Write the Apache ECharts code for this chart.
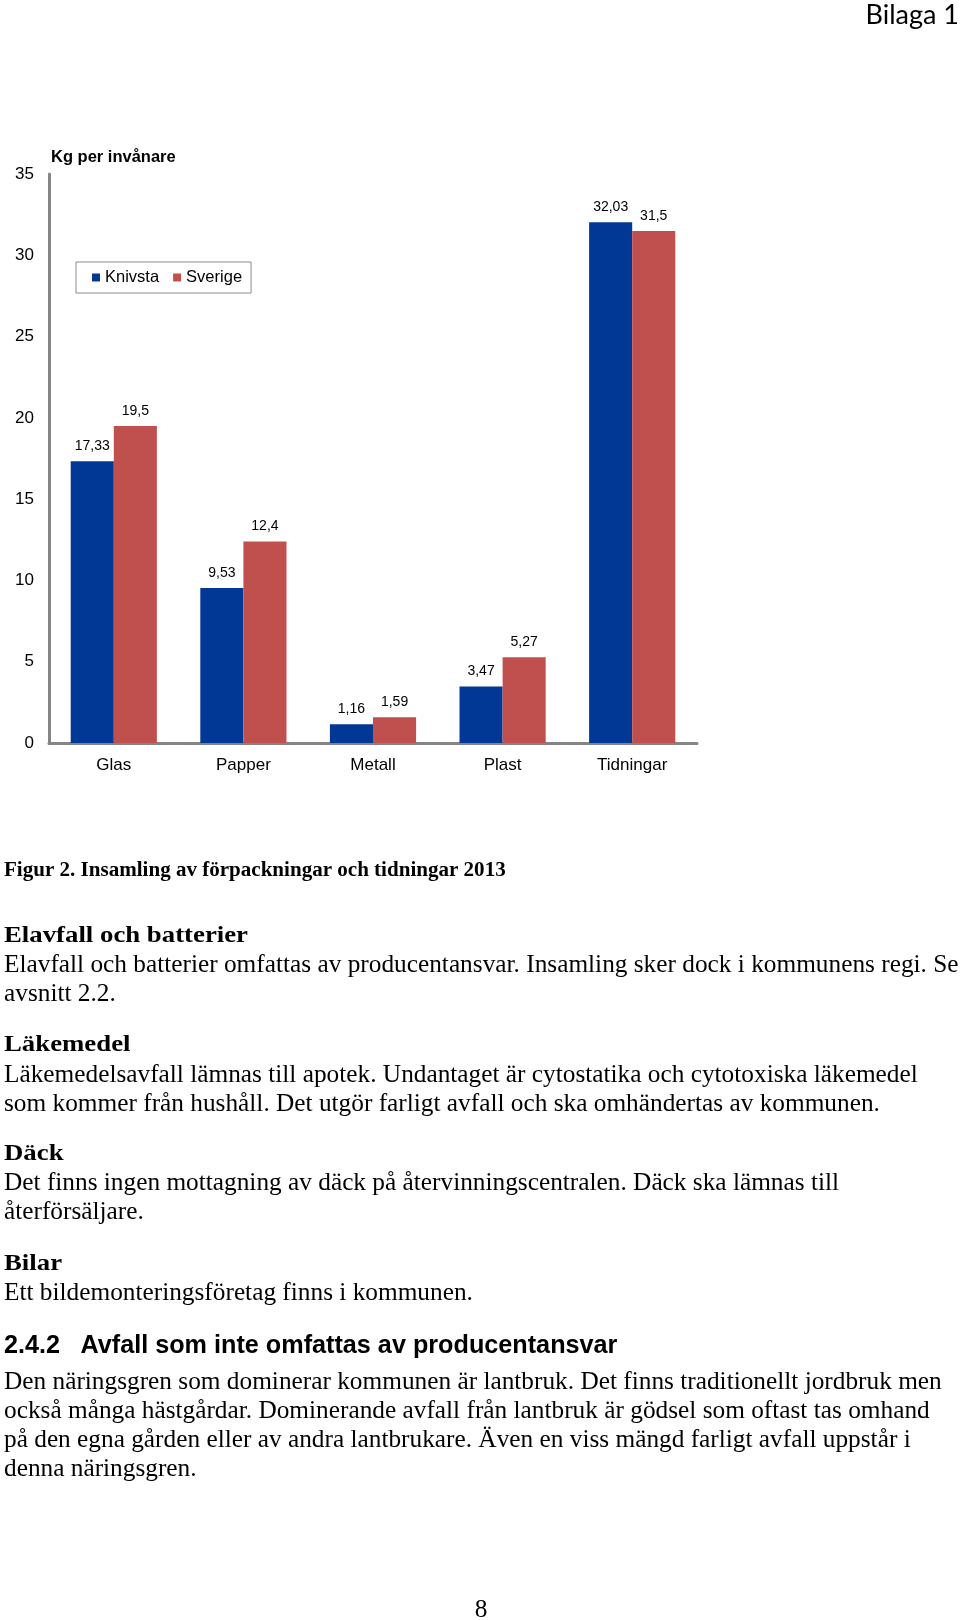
<!DOCTYPE html>
<html>
<head>
<meta charset="utf-8">
<script src="https://cdn.jsdelivr.net/npm/echarts@6/dist/echarts.min.js"></script>
<style>
html,body{margin:0;padding:0;background:#fff;}
#page{width:960px;height:1620px;}
</style>
</head>
<body>
<div id="page"></div>
<script>
// ---- chart data ----
const categories = ['Glas', 'Papper', 'Metall', 'Plast', 'Tidningar'];
const knivsta = [17.33, 9.53, 1.16, 3.47, 32.03];
const sverige = [19.5, 12.4, 1.59, 5.27, 31.5];
const seriesNames = ['Knivsta', 'Sverige'];
const yMin = 0, yMax = 35, yInterval = 5;
const chartTitle = 'Kg per invånare';

// ---- page texts ----
const headerText = 'Bilaga 1';
const captionText = 'Figur 2. Insamling av förpackningar och tidningar 2013';
const heading1 = 'Elavfall och batterier';
const para1 = ['Elavfall och batterier omfattas av producentansvar. Insamling sker dock i kommunens regi. Se', 'avsnitt 2.2.'];
const heading2 = 'Läkemedel';
const para2 = ['Läkemedelsavfall lämnas till apotek. Undantaget är cytostatika och cytotoxiska läkemedel', 'som kommer från hushåll. Det utgör farligt avfall och ska omhändertas av kommunen.'];
const heading3 = 'Däck';
const para3 = ['Det finns ingen mottagning av däck på återvinningscentralen. Däck ska lämnas till', 'återförsäljare.'];
const heading4 = 'Bilar';
const para4 = ['Ett bildemonteringsföretag finns i kommunen.'];
const sectionNum = '2.4.2';
const sectionTitle = 'Avfall som inte omfattas av producentansvar';
const para5 = ['Den näringsgren som dominerar kommunen är lantbruk. Det finns traditionellt jordbruk men', 'också många hästgårdar. Dominerande avfall från lantbruk är gödsel som oftast tas omhand', 'på den egna gården eller av andra lantbrukare. Även en viss mängd farligt avfall uppstår i', 'denna näringsgren.'];
const pageNumber = '8';

// ---- measuring helper ----
const mctx = document.createElement('canvas').getContext('2d');
function measure(text, font) { mctx.font = font; return mctx.measureText(text).width; }

const SERIF = '"Liberation Serif", "Times New Roman", serif';
const SANS = '"Liberation Sans", Arial, sans-serif';

// body font size from known line width (first body line spans x 4..959)
const bodyFS = 100 * 955 / measure(para1[0], '100px ' + SERIF);
const capFS = 100 * 502 / measure(captionText, 'bold 100px ' + SERIF);
const headFS = 23.5;
const headScale = 244 / measure(heading1, 'bold ' + headFS + 'px ' + SERIF);
const secFS = 100 * 537 / measure(sectionTitle, 'bold 100px ' + SANS);

function txt(text, x, y, font, opts) {
  opts = opts || {};
  return {
    type: 'text', x: x, y: y, scaleX: opts.scaleX || 1, silent: true,
    style: {
      text: text, x: 0, y: 0, font: font, fill: '#000',
      textAlign: opts.align || 'left', textVerticalAlign: 'middle',
      align: opts.align || 'left', verticalAlign: 'middle'
    }
  };
}

const bodyFont = bodyFS.toFixed(2) + 'px ' + SERIF;
const headFont = 'bold ' + headFS + 'px ' + SERIF;
const D = 2; // vertical nudge
const graphics = [];
graphics.push(txt(headerText, 959, 15, '27px Lato, "Open Sans", sans-serif', {align: 'right'}));
graphics.push(txt(captionText, 4, 869 + D, 'bold ' + capFS.toFixed(2) + 'px ' + SERIF));
graphics.push(txt(heading1, 4, 934 + D, headFont, {scaleX: headScale}));
graphics.push(txt(para1[0], 4, 963 + D, bodyFont));
graphics.push(txt(para1[1], 4, 992 + D, bodyFont));
graphics.push(txt(heading2, 4, 1043 + D, headFont, {scaleX: headScale}));
graphics.push(txt(para2[0], 4, 1073 + D, bodyFont));
graphics.push(txt(para2[1], 4, 1102 + D, bodyFont));
graphics.push(txt(heading3, 4, 1152 + D, headFont, {scaleX: headScale}));
graphics.push(txt(para3[0], 4, 1181 + D, bodyFont));
graphics.push(txt(para3[1], 4, 1210 + D, bodyFont));
graphics.push(txt(heading4, 4, 1262 + D, headFont, {scaleX: headScale}));
graphics.push(txt(para4[0], 4, 1291 + D, bodyFont));
graphics.push(txt(sectionNum, 4, 1344 + D, 'bold ' + secFS.toFixed(2) + 'px ' + SANS));
graphics.push(txt(sectionTitle, 80.5, 1344 + D, 'bold ' + secFS.toFixed(2) + 'px ' + SANS));
para5.forEach(function (l, i) { graphics.push(txt(l, 4, 1380 + D + i * 29.2, bodyFont)); });
graphics.push(txt(pageNumber, 481, 1608 + D, bodyFont, {align: 'center'}));

const fmt = function (p) { return String(p.value).replace('.', ','); };

const chart = echarts.init(document.getElementById('page'), null, {renderer: 'canvas'});
chart.setOption({
  animation: false,
  backgroundColor: '#fff',
  title: {
    text: chartTitle, left: 51, top: 149, padding: 0,
    textStyle: {fontFamily: SANS, fontSize: 16.5, fontWeight: 'bold', color: '#000'}
  },
  legend: {
    data: seriesNames, left: 76, top: 262, orient: 'horizontal',
    padding: [7, 9, 7, 16], itemWidth: 8, itemHeight: 8, itemGap: 14, icon: 'rect',
    borderColor: '#8c8c8c', borderWidth: 1, backgroundColor: '#fff',
    textStyle: {fontFamily: SANS, fontSize: 16.5, color: '#000'}
  },
  grid: {left: 49, right: 263, top: 174, bottom: 877, containLabel: false},
  xAxis: {
    type: 'category', data: categories,
    axisLine: {show: true, lineStyle: {color: '#858585', width: 3}},
    axisTick: {show: false},
    axisLabel: {fontFamily: SANS, fontSize: 17, color: '#000', margin: 14}
  },
  yAxis: {
    type: 'value', min: yMin, max: yMax, interval: yInterval,
    axisLine: {show: true, lineStyle: {color: '#858585', width: 3}},
    axisTick: {show: false},
    splitLine: {show: false},
    axisLabel: {fontFamily: SANS, fontSize: 17, color: '#000', margin: 15}
  },
  series: [
    {
      name: seriesNames[0], type: 'bar', data: knivsta, barGap: '0%', barCategoryGap: '33.5%',
      itemStyle: {color: '#013895'},
      label: {show: true, position: 'top', distance: 8, formatter: fmt, fontFamily: SANS, fontSize: 14, color: '#000'}
    },
    {
      name: seriesNames[1], type: 'bar', data: sverige, barGap: '0%', barCategoryGap: '33.5%',
      itemStyle: {color: '#C0504D'},
      label: {show: true, position: 'top', distance: 8, formatter: fmt, fontFamily: SANS, fontSize: 14, color: '#000'}
    }
  ],
  graphic: graphics
});
</script>
</body>
</html>
